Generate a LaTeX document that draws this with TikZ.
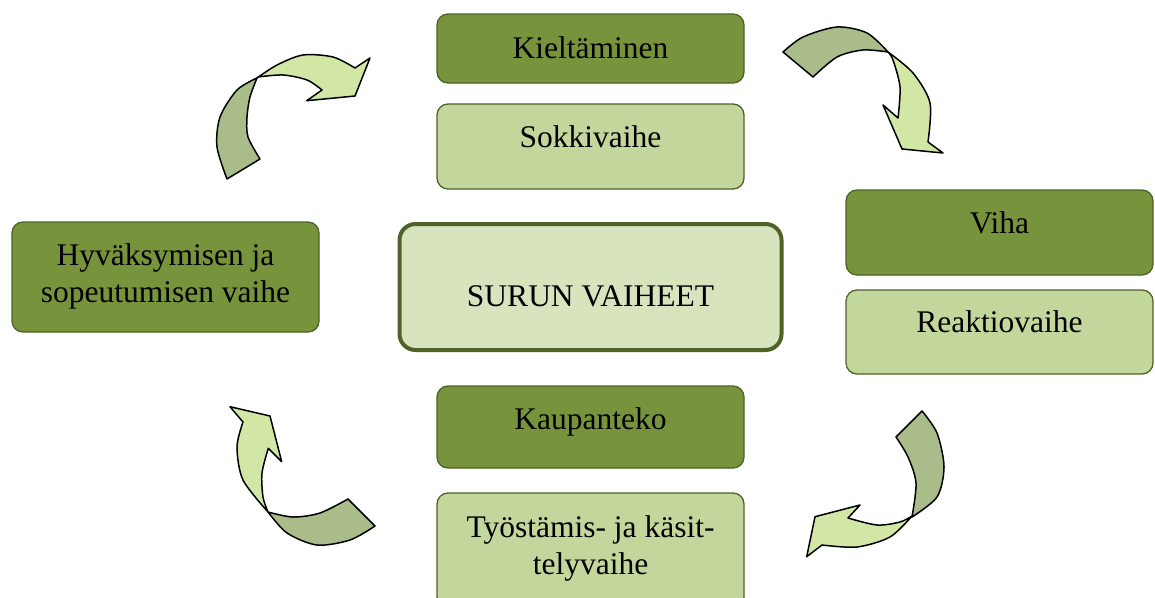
\documentclass[tikz,border=0pt]{standalone}
\usepackage{fontspec}
\setmainfont{Liberation Serif}
\definecolor{darkfill}{HTML}{77933C}
\definecolor{lightfill}{HTML}{C3D69B}
\definecolor{centerfill}{HTML}{D7E4BD}
\definecolor{boxborder}{HTML}{4F6228}
\definecolor{arrowlight}{HTML}{D2E6A6}
\definecolor{arrowdark}{HTML}{A9BC8A}
\tikzset{
  stagebox/.style={rectangle, rounded corners=11pt, draw=boxborder, line width=1.3pt, inner sep=0pt},
  darkbox/.style={stagebox, fill=darkfill},
  lightbox/.style={stagebox, fill=lightfill},
  centerbox/.style={rectangle, rounded corners=16pt, draw=boxborder, line width=4pt, fill=centerfill, inner sep=0pt},
  boxtext/.style={anchor=base, align=center, inner sep=0pt, font=\fontsize{31.5}{37}\selectfont},
  arrowpartlight/.style={fill=arrowlight, draw=black, line width=1.5pt, line join=round},
  arrowpartdark/.style={fill=arrowdark, draw=black, line width=1.5pt, line join=round},
}
\begin{document}
\begin{tikzpicture}[x=1pt,y=-1pt]
\clip (0,0) rectangle (1155,597);
\fill[white] (0,0) rectangle (1155,597);

% boxes
\node[darkbox, minimum width=307pt, minimum height=69pt] (kielt) at (590.5,48.5) {};
\node[lightbox, minimum width=307pt, minimum height=85pt] (sokki) at (590.5,146.5) {};
\node[darkbox, minimum width=307pt, minimum height=85pt] (viha) at (999.5,232.5) {};
\node[lightbox, minimum width=307pt, minimum height=84pt] (reakt) at (999.5,332) {};
\node[darkbox, minimum width=307pt, minimum height=110pt] (hyva) at (165.5,277) {};
\node[centerbox, minimum width=382pt, minimum height=126pt] (surun) at (590.5,287) {};
\node[darkbox, minimum width=307pt, minimum height=82pt] (kaup) at (590.5,427) {};
\node[lightbox, minimum width=307pt, minimum height=115pt] (tyo) at (590.5,550.5) {};

% texts (multi-line: base anchor is at the last line)
\node[boxtext] (tkielt) at (590.5,58) {Kieltäminen};
\node[boxtext] (tsokki) at (590.5,147) {Sokkivaihe};
\node[boxtext] (tviha) at (999.5,233) {Viha};
\node[boxtext] (treakt) at (999.5,332) {Reaktiovaihe};
\node[boxtext] (thyva) at (165.5,302) {Hyväksymisen ja\\sopeutumisen vaihe};
\node[boxtext] (tsurun) at (590.5,306) {SURUN VAIHEET};
\node[boxtext] (tkaup) at (590.5,429) {Kaupanteko};
\node[boxtext] (ttyo) at (590.5,574) {Työstämis- ja käsit-\\telyvaihe};

% top-left arrow
\filldraw[arrowpartdark] plot[smooth] coordinates {(227,179) (217,147) (220,117) (237,90) (257,78)}
  -- plot[smooth] coordinates {(257,78) (250,97) (247,117) (248,137) (260,159)} -- cycle;
\filldraw[arrowpartlight] plot[smooth] coordinates {(257,78) (277,65) (303,55) (333,57) (355,68)}
  -- (370,58) -- (355,96) -- (306.7,100.7) -- (322,90)
  -- plot[smooth] coordinates {(322,90) (307,80) (283,75) (258,77)} -- cycle;

% top-right arrow
\filldraw[arrowpartdark] plot[smooth] coordinates {(783,52) (803,37) (837,27) (867,33) (888,52)}
  -- plot[smooth] coordinates {(888,52) (863,50) (837,57) (813,77)} -- cycle;
\filldraw[arrowpartlight] plot[smooth] coordinates {(888,52) (913,73) (930,103) (928,142)}
  -- (943,153) -- (902,149) -- (883,105) -- (898,118)
  -- plot[smooth] coordinates {(898,118) (900,87) (893,60) (888,52)} -- cycle;

% bottom-right arrow
\filldraw[arrowpartdark] plot[smooth] coordinates {(922,411) (937,433) (944,467) (937,497) (912,517)}
  -- plot[smooth] coordinates {(912,517) (916,483) (908,457) (896,437)} -- cycle;
\filldraw[arrowpartlight] plot[smooth] coordinates {(912,516) (890,537) (857,547) (822,545)}
  -- (806.7,556.7) -- (815,516.7) -- (860,505) -- (848,518)
  -- plot[smooth] coordinates {(848,518) (877,525) (900,522) (912,516)} -- cycle;

% bottom-left arrow
\filldraw[arrowpartdark] plot[smooth] coordinates {(348,499) (320,513) (293,517) (268,512)}
  -- plot[smooth] coordinates {(268,512) (287,533) (317,545) (350,540) (375,526)} -- cycle;
\filldraw[arrowpartlight] plot[smooth] coordinates {(268,512) (243,480) (237,447) (243,422)}
  -- (230,406.7) -- (270,416) -- (281.7,461.7) -- (268.3,448.3)
  -- plot[smooth] coordinates {(268.3,448.3) (262,473) (263,497) (268,512)} -- cycle;
\end{tikzpicture}
\end{document}
